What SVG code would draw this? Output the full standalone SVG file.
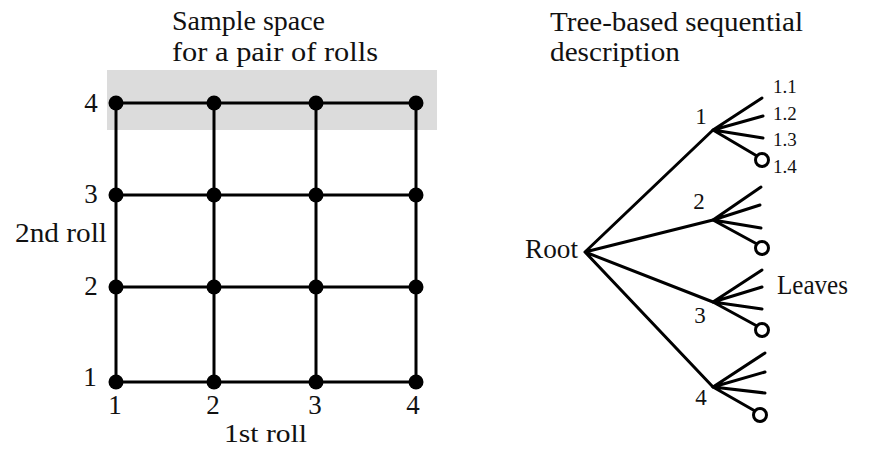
<svg xmlns="http://www.w3.org/2000/svg" width="873" height="450" viewBox="0 0 873 450">
<style>
text{font-family:"Liberation Serif","Times New Roman",serif;fill:#111}
.t{font-size:27px}
.n{font-size:23px}
.s{font-size:19px}
.e{stroke:#000;stroke-width:3;fill:none;stroke-linecap:round}
.d{fill:#000}
.leaf{fill:#fff;stroke:#000;stroke-width:3}
</style>
<rect width="873" height="450" fill="#fff"/>
<rect x="107" y="70" width="330" height="60" fill="#dcdcdc"/>
<g id="titles">
<text class="t" x="172" y="30" textLength="153" lengthAdjust="spacingAndGlyphs">Sample space</text>
<text class="t" x="172" y="61" textLength="206" lengthAdjust="spacingAndGlyphs">for a pair of rolls</text>
<text class="t" x="550" y="31" textLength="253" lengthAdjust="spacingAndGlyphs">Tree-based sequential</text>
<text class="t" x="550" y="61" textLength="130" lengthAdjust="spacingAndGlyphs">description</text>
</g>
<g id="connectors">
<path class="e" d="M116 103H416M116 195H416M116 287H416M116 382H416M116 103V382M214 103V382M316 103V382M416 103V382"/>
<path class="e" d="M585 252L713 130M585 252L713 220M585 252L713 302M585 252L713 387"/>
<path class="e" d="M713 130L762 98M713 130L763 116M713 130L763 138M713 130L757 156"/>
<path class="e" d="M713 220L761 187M713 220L760 205M713 220L761 228M713 220L757 244"/>
<path class="e" d="M713 302L762 270M713 302L762 287M713 302L762 309M713 302L757 326"/>
<path class="e" d="M713 387L765 353M713 387L765 372M713 387L765 393M713 387L755 411"/>
</g>
<g id="grid-nodes">
<g id="n11"><circle class="d" cx="116" cy="382" r="7.5"/></g>
<g id="n21"><circle class="d" cx="214" cy="382" r="7.5"/></g>
<g id="n31"><circle class="d" cx="316" cy="382" r="7.5"/></g>
<g id="n41"><circle class="d" cx="416" cy="382" r="7.5"/></g>
<g id="n12"><circle class="d" cx="116" cy="287" r="7.5"/></g>
<g id="n22"><circle class="d" cx="214" cy="287" r="7.5"/></g>
<g id="n32"><circle class="d" cx="316" cy="287" r="7.5"/></g>
<g id="n42"><circle class="d" cx="416" cy="287" r="7.5"/></g>
<g id="n13"><circle class="d" cx="116" cy="195" r="7.5"/></g>
<g id="n23"><circle class="d" cx="214" cy="195" r="7.5"/></g>
<g id="n33"><circle class="d" cx="316" cy="195" r="7.5"/></g>
<g id="n43"><circle class="d" cx="416" cy="195" r="7.5"/></g>
<g id="n14"><circle class="d" cx="116" cy="103" r="7.5"/></g>
<g id="n24"><circle class="d" cx="214" cy="103" r="7.5"/></g>
<g id="n34"><circle class="d" cx="316" cy="103" r="7.5"/></g>
<g id="n44"><circle class="d" cx="416" cy="103" r="7.5"/></g>
</g>
<g id="axis-labels">
<text class="t" x="91" y="112" text-anchor="middle">4</text>
<text class="t" x="91" y="203" text-anchor="middle">3</text>
<text class="t" x="91" y="295" text-anchor="middle">2</text>
<text class="t" x="90" y="386" text-anchor="middle">1</text>
<text class="t" x="15" y="242" textLength="92" lengthAdjust="spacingAndGlyphs">2nd roll</text>
<text class="t" x="115" y="414" text-anchor="middle">1</text>
<text class="t" x="213" y="414" text-anchor="middle">2</text>
<text class="t" x="315" y="414" text-anchor="middle">3</text>
<text class="t" x="413" y="414" text-anchor="middle">4</text>
<text x="224" y="442" style="font-size:25px" textLength="83" lengthAdjust="spacingAndGlyphs">1st roll</text>
</g>
<g id="root"><text class="t" x="525" y="258" textLength="53" lengthAdjust="spacingAndGlyphs">Root</text></g>
<g id="node1"><text class="n" x="701" y="124" text-anchor="middle">1</text></g>
<g id="node2"><text class="n" x="699" y="209" text-anchor="middle">2</text></g>
<g id="node3"><text class="n" x="700" y="323" text-anchor="middle">3</text></g>
<g id="node4"><text class="n" x="701" y="405" text-anchor="middle">4</text></g>
<g id="leaf14"><circle class="leaf" cx="762" cy="160" r="6.5"/></g>
<g id="leaf24"><circle class="leaf" cx="762" cy="248" r="6.5"/></g>
<g id="leaf34"><circle class="leaf" cx="762" cy="330" r="6.5"/></g>
<g id="leaf44"><circle class="leaf" cx="760" cy="415" r="6.5"/></g>
<g id="leaf-labels">
<text class="s" x="773" y="93">1.1</text>
<text class="s" x="773" y="120">1.2</text>
<text class="s" x="773" y="146">1.3</text>
<text class="s" x="773" y="173">1.4</text>
<text class="t" x="777" y="294" textLength="71" lengthAdjust="spacingAndGlyphs">Leaves</text>
</g>
</svg>
